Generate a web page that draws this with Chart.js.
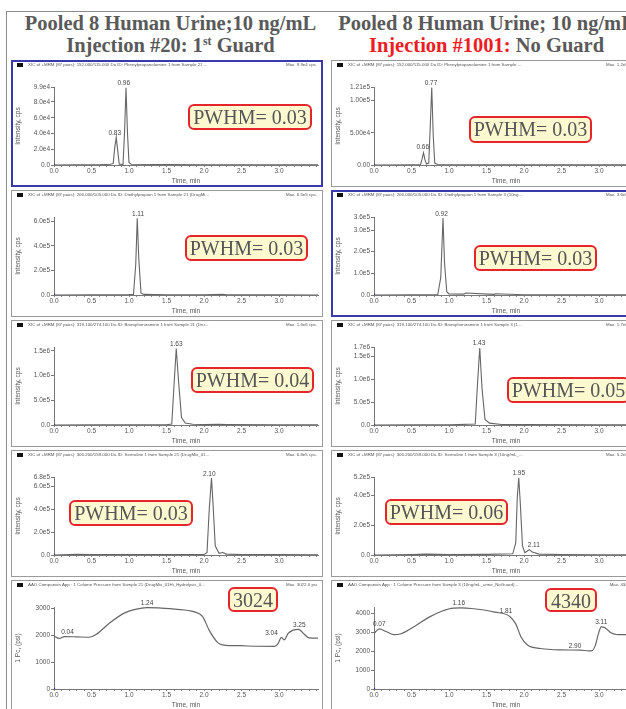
<!DOCTYPE html>
<html>
<head>
<meta charset="utf-8">
<title>Pooled human urine - guard column comparison</title>
<script src="https://cdn.jsdelivr.net/npm/chart.js@4.4.1/dist/chart.umd.min.js"></script>
<style>
  html, body { margin: 0; padding: 0; }
  body { width: 626px; height: 709px; overflow: hidden; position: relative; background: #fff; font-family: "Liberation Sans", Arial, sans-serif; }
  #frame { position: absolute; left: 6px; top: 11px; width: 700px; height: 760px; border: 1px solid #8c8c8c; }
  .ttl { position: absolute; top: 12px; width: 321px; text-align: center; font: bold 20.5px/22px "Liberation Serif", serif; color: #5a5a5a; white-space: nowrap; }
  .ttl sup { font-size: 12px; line-height: 0; vertical-align: 7px; }
  .red { color: #ee1c25; }
  .panel { position: absolute; width: 312px; background: #fff; }
  .panel canvas { position: absolute; left: 1px; top: 1px; }
  .edge { position: absolute; left: 0; top: 0; right: 0; bottom: 0; border: 1px solid #9a9a9a; pointer-events: none; }
  .panel.sel .edge { border: 2px solid #3a3aa8; }
  .icon { position: absolute; left: 6px; top: 3px; width: 6px; height: 4px; background: #111; z-index: 2; }
  .hdr { position: absolute; left: 17px; top: 2px; font-size: 4.4px; color: #555; white-space: nowrap; z-index: 2; }
  .max { position: absolute; right: 6px; top: 2px; font-size: 4.4px; color: #555; white-space: nowrap; z-index: 2; }
  .pw { position: absolute; z-index: 5; box-sizing: border-box; border: 2px solid #e5242b; border-radius: 6px; background: #fcf9d0; color: #555; font: 20px/22px "Liberation Serif", serif; text-align: center; white-space: nowrap; overflow: hidden; }
</style>
</head>
<body>
<div id="frame"></div>
<div class="ttl" style="left:10px">Pooled 8 Human Urine;10 ng/mL<br>Injection #20: 1<sup>st</sup> Guard</div>
<div class="ttl" style="left:326px">Pooled 8 Human Urine; 10 ng/mL<br><span class="red">Injection #1001:</span> No Guard</div>

<div class="pw" style="left:188px;top:104px;width:124px;height:26px">PWHM= 0.03</div>
<div class="pw" style="left:469px;top:116px;width:123px;height:27px">PWHM= 0.03</div>
<div class="pw" style="left:185px;top:235px;width:123px;height:26px">PWHM= 0.03</div>
<div class="pw" style="left:474px;top:245px;width:123px;height:26px">PWHM= 0.03</div>
<div class="pw" style="left:191px;top:367px;width:123px;height:26px">PWHM= 0.04</div>
<div class="pw" style="left:507px;top:377px;width:123px;height:26px">PWHM= 0.05</div>
<div class="pw" style="left:69px;top:500px;width:124px;height:26px">PWHM= 0.03</div>
<div class="pw" style="left:385px;top:499px;width:123px;height:26px">PWHM= 0.06</div>
<div class="pw" style="left:228px;top:587px;width:50px;height:25px">3024</div>
<div class="pw" style="left:545px;top:588px;width:52px;height:24px">4340</div>

<script>
Chart.defaults.font.family = '"Liberation Sans", Arial, sans-serif';

var xMajor = [0, 0.5, 1, 1.5, 2, 2.5, 3];
var xLabels = ['0.0', '0.5', '1.0', '1.5', '2.0', '2.5', '3.0'];

// Phenylpropanolamine, injection #20 (1st guard)
var ppa20Time = [0, 0.3, 0.6, 0.75, 0.79, 0.81, 0.83, 0.85, 0.87, 0.92, 0.94, 0.96, 0.98, 1.0, 1.03, 1.5, 2.0, 2.5, 3.0, 3.52];
var ppa20Cps = [0, 300, 200, 900, 2000, 22000, 34800, 18000, 1000, 800, 40000, 98000, 40000, 3000, 1000, 500, 400, 300, 400, 300];
var ppa20LabelTime = [0.81, 0.93];
var ppa20LabelCps = [34800, 98000];
var ppa20LabelText = ['0.83', '0.96'];
var ppa20Ticks = [0, 20000, 40000, 60000, 80000, 99000];
var ppa20TickLabels = ['0.0', '2.0e4', '4.0e4', '6.0e4', '8.0e4', '9.9e4'];

// Phenylpropanolamine, injection #1001 (no guard)
var ppa1001Time = [0, 0.5, 0.62, 0.64, 0.66, 0.68, 0.7, 0.73, 0.75, 0.77, 0.79, 0.81, 0.85, 1.5, 2.5, 3.52];
var ppa1001Cps = [0, 300, 500, 9000, 19000, 8000, 1500, 3000, 60000, 120000, 45000, 3000, 800, 400, 300, 300];
var ppa1001LabelTime = [0.65, 0.76];
var ppa1001LabelCps = [21000, 120000];
var ppa1001LabelText = ['0.66', '0.77'];
var ppa1001Ticks = [0, 50000, 100000, 121000];
var ppa1001TickLabels = ['0.00', '5.00e4', '1.00e5', '1.21e5'];

// Diethylpropion, injection #20
var dep20Time = [0, 0.5, 1.0, 1.06, 1.09, 1.11, 1.13, 1.16, 1.2, 1.5, 2.0, 2.25, 2.3, 3.0, 3.52];
var dep20Cps = [0, 1000, 3000, 5000, 250000, 625000, 300000, 15000, 5000, 2000, 1500, 6000, 1500, 1000, 500];
var dep20LabelTime = [1.12];
var dep20LabelCps = [625000];
var dep20LabelText = ['1.11'];
var dep20Ticks = [0, 200000, 400000, 600000];
var dep20TickLabels = ['0.0', '2.0e5', '4.0e5', '6.0e5'];

// Diethylpropion, injection #1001
var dep1001Time = [0, 0.5, 0.85, 0.89, 0.92, 0.94, 0.97, 1.0, 1.2, 1.22, 1.6, 1.62, 2.0, 3.0, 3.52];
var dep1001Cps = [0, 1000, 2000, 80000, 355000, 150000, 15000, 5000, 4000, 9000, 3000, 6000, 1500, 1000, 800];
var dep1001LabelTime = [0.9];
var dep1001LabelCps = [355000];
var dep1001LabelText = ['0.92'];
var dep1001Ticks = [0, 100000, 200000, 300000, 360000];
var dep1001TickLabels = ['0.0', '1.0e5', '2.0e5', '3.0e5', '3.6e5'];

// Brompheniramine, injection #20
var bph20Time = [0, 0.5, 1.0, 1.5, 1.57, 1.6, 1.63, 1.66, 1.7, 1.75, 1.85, 2.0, 2.2, 2.3, 3.0, 3.52];
var bph20Cps = [0, 2000, 5000, 5000, 20000, 800000, 1550000, 900000, 150000, 40000, 15000, 10000, 12000, 8000, 3000, 2000];
var bph20LabelTime = [1.63];
var bph20LabelCps = [1550000];
var bph20LabelText = ['1.63'];
var bph20Ticks = [0, 500000, 1000000, 1500000];
var bph20TickLabels = ['0.0', '5.0e5', '1.0e6', '1.5e6'];

// Brompheniramine, injection #1001
var bph1001Time = [0, 0.5, 1.0, 1.35, 1.38, 1.41, 1.44, 1.48, 1.54, 1.7, 2.0, 3.0, 3.52];
var bph1001Cps = [0, 2000, 4000, 20000, 900000, 1680000, 800000, 120000, 40000, 12000, 8000, 3000, 2000];
var bph1001LabelTime = [1.4];
var bph1001LabelCps = [1680000];
var bph1001LabelText = ['1.43'];
var bph1001Ticks = [0, 500000, 1000000, 1500000, 1700000];
var bph1001TickLabels = ['0.0', '5.0e5', '1.0e6', '1.5e6', '1.7e6'];

// Sertraline, injection #20
var ser20Time = [0, 0.3, 0.5, 0.8, 1.2, 1.5, 2.0, 2.04, 2.07, 2.1, 2.12, 2.15, 2.2, 2.25, 2.3, 2.5, 3.0, 3.52];
var ser20Cps = [0, 6000, 3000, 5000, 5000, 4000, 5000, 20000, 400000, 670000, 450000, 80000, 15000, 22000, 8000, 4000, 3000, 2000];
var ser20LabelTime = [2.07];
var ser20LabelCps = [670000];
var ser20LabelText = ['2.10'];
var ser20Ticks = [0, 200000, 400000, 600000, 680000];
var ser20TickLabels = ['0.0', '2.0e5', '4.0e5', '6.0e5', '6.8e5'];

// Sertraline, injection #1001
var ser1001Time = [0, 0.5, 0.7, 1.0, 1.5, 1.85, 1.89, 1.91, 1.93, 1.95, 1.98, 2.01, 2.04, 2.07, 2.11, 2.2, 2.5, 3.0, 3.52];
var ser1001Cps = [0, 3000, 6000, 3000, 4000, 8000, 80000, 380000, 515000, 350000, 60000, 15000, 25000, 36000, 20000, 6000, 3000, 2000, 1500];
var ser1001LabelTime = [1.93, 2.13];
var ser1001LabelCps = [515000, 36000];
var ser1001LabelText = ['1.95', '2.11'];
var ser1001Ticks = [0, 200000, 400000, 520000];
var ser1001TickLabels = ['0.0', '2.0e5', '4.0e5', '5.2e5'];

// Column pressure, injection #20
var pc20Time = [0, 0.07, 0.14, 0.3, 0.47, 0.56, 0.73, 0.95, 1.17, 1.24, 1.39, 1.61, 1.87, 1.98, 2.07, 2.18, 2.26, 2.48, 2.7, 2.94, 2.99, 3.03, 3.07, 3.12, 3.18, 3.26, 3.34, 3.4, 3.52];
var pc20Psi = [1970, 1880, 1950, 1940, 1925, 2025, 2430, 2840, 3010, 3024, 3020, 2970, 2870, 2700, 2180, 1735, 1635, 1610, 1590, 1585, 1700, 1920, 1830, 2060, 2180, 2220, 2030, 1900, 1890];
var pc20LabelTime = [0.18, 1.24, 2.9, 3.27];
var pc20LabelPsi = [1960, 3024, 1920, 2220];
var pc20LabelText = ['0.04', '1.24', '3.04', '3.25'];
var pc20Ticks = [0, 1000, 2000, 3000];
var pc20TickLabels = ['0', '1000', '2000', '3000'];

// Column pressure, injection #1001
var pc1001Time = [0, 0.07, 0.16, 0.27, 0.36, 0.56, 0.73, 0.91, 1.06, 1.16, 1.3, 1.61, 1.81, 1.89, 1.96, 2.05, 2.22, 2.48, 2.75, 2.85, 2.9, 2.95, 2.99, 3.03, 3.08, 3.16, 3.23, 3.31, 3.52];
var pc1001Psi = [2950, 3190, 3050, 2880, 2930, 3370, 3800, 4135, 4290, 4300, 4270, 4080, 3850, 3455, 2760, 2320, 2150, 2075, 2060, 2030, 2020, 2300, 2900, 3300, 3250, 2980, 2890, 2880, 2880];
var pc1001LabelTime = [0.07, 1.13, 1.76, 2.68, 3.03];
var pc1001LabelPsi = [3190, 4300, 3900, 2020, 3320];
var pc1001LabelText = ['0.07', '1.16', '1.81', '2.90', '3.11'];
var pc1001Ticks = [0, 1000, 2000, 3000, 4000];
var pc1001TickLabels = ['0', '1000', '2000', '3000', '4000'];

var charts = [
  {col: 0, row: 0, sel: true, yMax: 99000, smooth: false, yTitle: 'Intensity, cps',
   head: 'XIC of +MRM (87 pairs): 152.000/115.000 Da ID: Phenylpropanolamine 1 from Sample 21 ...', max: 'Max. 9.9e4 cps.',
   t: ppa20Time, v: ppa20Cps, lt: ppa20LabelTime, lv: ppa20LabelCps, lx: ppa20LabelText, ticks: ppa20Ticks, tl: ppa20TickLabels},
  {col: 1, row: 0, sel: false, yMax: 121000, smooth: false, yTitle: 'Intensity, cps',
   head: 'XIC of +MRM (87 pairs): 152.000/115.000 Da ID: Phenylpropanolamine 1 from Sample ...', max: 'Max. 1.2e5 cps.',
   t: ppa1001Time, v: ppa1001Cps, lt: ppa1001LabelTime, lv: ppa1001LabelCps, lx: ppa1001LabelText, ticks: ppa1001Ticks, tl: ppa1001TickLabels},
  {col: 0, row: 1, sel: false, yMax: 635000, smooth: false, yTitle: 'Intensity, cps',
   head: 'XIC of +MRM (87 pairs): 206.000/105.000 Da ID: Diethylpropion 1 from Sample 21 (DrugMi...', max: 'Max. 6.5e5 cps.',
   t: dep20Time, v: dep20Cps, lt: dep20LabelTime, lv: dep20LabelCps, lx: dep20LabelText, ticks: dep20Ticks, tl: dep20TickLabels},
  {col: 1, row: 1, sel: true, yMax: 360000, smooth: false, yTitle: 'Intensity, cps',
   head: 'XIC of +MRM (87 pairs): 206.000/105.000 Da ID: Diethylpropion 1 from Sample 3 (10ng...', max: 'Max. 3.6e5 cps.',
   t: dep1001Time, v: dep1001Cps, lt: dep1001LabelTime, lv: dep1001LabelCps, lx: dep1001LabelText, ticks: dep1001Ticks, tl: dep1001TickLabels},
  {col: 0, row: 2, sel: false, yMax: 1580000, smooth: false, yTitle: 'Intensity, cps',
   head: 'XIC of +MRM (87 pairs): 319.100/274.100 Da ID: Brompheniramine 1 from Sample 21 (Dru...', max: 'Max. 1.6e6 cps.',
   t: bph20Time, v: bph20Cps, lt: bph20LabelTime, lv: bph20LabelCps, lx: bph20LabelText, ticks: bph20Ticks, tl: bph20TickLabels},
  {col: 1, row: 2, sel: false, yMax: 1700000, smooth: false, yTitle: 'Intensity, cps',
   head: 'XIC of +MRM (87 pairs): 319.100/274.100 Da ID: Brompheniramine 1 from Sample 3 (1...', max: 'Max. 1.7e6 cps.',
   t: bph1001Time, v: bph1001Cps, lt: bph1001LabelTime, lv: bph1001LabelCps, lx: bph1001LabelText, ticks: bph1001Ticks, tl: bph1001TickLabels},
  {col: 0, row: 3, sel: false, yMax: 680000, smooth: false, yTitle: 'Intensity, cps',
   head: 'XIC of +MRM (87 pairs): 306.200/159.000 Da ID: Sertraline 1 from Sample 21 (DrugMix_01...', max: 'Max. 6.8e5 cps.',
   t: ser20Time, v: ser20Cps, lt: ser20LabelTime, lv: ser20LabelCps, lx: ser20LabelText, ticks: ser20Ticks, tl: ser20TickLabels},
  {col: 1, row: 3, sel: false, yMax: 520000, smooth: false, yTitle: 'Intensity, cps',
   head: 'XIC of +MRM (87 pairs): 306.200/159.000 Da ID: Sertraline 1 from Sample 3 (10ng/mL_...', max: 'Max. 5.2e5 cps.',
   t: ser1001Time, v: ser1001Cps, lt: ser1001LabelTime, lv: ser1001LabelCps, lx: ser1001LabelText, ticks: ser1001Ticks, tl: ser1001TickLabels},
  {col: 0, row: 4, sel: false, yMax: 3050, smooth: true, yTitle: '1 Pc, (psi)',
   head: 'AAO Companion App : 1 Column Pressure from Sample 21 (DrugMix_01Hi_Hydrolysis_0...', max: 'Max. 3022.0 psi',
   t: pc20Time, v: pc20Psi, lt: pc20LabelTime, lv: pc20LabelPsi, lx: pc20LabelText, ticks: pc20Ticks, tl: pc20TickLabels},
  {col: 1, row: 4, sel: false, yMax: 4350, smooth: true, yTitle: '1 Pc, (psi)',
   head: 'AAO Companion App : 1 Column Pressure from Sample 3 (10ng/mL_urine_NoGuard)...', max: 'Max. 4340 psi',
   t: pc1001Time, v: pc1001Psi, lt: pc1001LabelTime, lv: pc1001LabelPsi, lx: pc1001LabelText, ticks: pc1001Ticks, tl: pc1001TickLabels}
];

var rowTop = [60, 190, 320, 450, 580];
var rowH = [127, 127, 127, 127, 131];
var colLeft = [11, 331];

// writes the retention time next to each labelled peak
var peakLabels = {
  id: 'peakLabels',
  afterDatasetsDraw: function (chart, args, opts) {
    var ctx = chart.ctx, x = chart.scales.x, y = chart.scales.y;
    ctx.save();
    ctx.font = '6.5px "Liberation Sans", Arial, sans-serif';
    ctx.fillStyle = '#444';
    ctx.textAlign = 'center';
    ctx.textBaseline = 'bottom';
    for (var i = 0; i < opts.times.length; i++) {
      ctx.fillText(opts.text[i], x.getPixelForValue(opts.times[i]), y.getPixelForValue(opts.values[i]) - 1);
    }
    ctx.restore();
  }
};

var small = {size: 6.5};

charts.forEach(function (c) {
  var p = document.createElement('div');
  p.className = 'panel' + (c.sel ? ' sel' : '');
  p.style.left = colLeft[c.col] + 'px';
  p.style.top = rowTop[c.row] + 'px';
  p.style.height = rowH[c.row] + 'px';
  p.innerHTML = '<div class="icon"></div><div class="hdr">' + c.head + '</div><div class="max">' + c.max + '</div>';
  var cv = document.createElement('canvas');
  cv.width = 310;
  cv.height = rowH[c.row] - 2;
  cv.style.width = '310px';
  cv.style.height = (rowH[c.row] - 2) + 'px';
  p.appendChild(cv);
  var e = document.createElement('div');
  e.className = 'edge';
  p.appendChild(e);
  document.body.appendChild(p);

  var pts = c.t.map(function (t, i) { return {x: t, y: c.v[i]}; });

  new Chart(cv, {
    type: 'scatter',
    data: {
      datasets: [
        {data: pts, showLine: true, borderColor: '#666', borderWidth: c.smooth ? 1.2 : 1.1, pointRadius: 0,
         cubicInterpolationMode: c.smooth ? 'monotone' : 'default', tension: c.smooth ? 0.4 : 0},
        {data: [{x: 0, y: 0}], pointStyle: 'rect', pointRadius: 1.6, backgroundColor: '#1414d2', borderWidth: 0}
      ]
    },
    plugins: [peakLabels],
    options: {
      responsive: false,
      animation: false,
      events: [],
      layout: {padding: {top: 26, right: 0, bottom: 0, left: 0}},
      plugins: {
        legend: {display: false},
        tooltip: {enabled: false},
        peakLabels: {times: c.lt, values: c.lv, text: c.lx}
      },
      scales: {
        x: {
          type: 'linear', min: 0, max: 3.52,
          afterBuildTicks: function (s) {
            var tk = [];
            for (var k = 0; k <= 35; k++) tk.push({value: k / 10});
            s.ticks = tk;
          },
          afterFit: function (s) { s.height = 21; },
          ticks: {
            autoSkip: false, maxRotation: 0, padding: 0, color: '#555', font: small,
            callback: function (v) {
              var i = xMajor.indexOf(Math.round(v * 10) / 10);
              return i < 0 ? '' : xLabels[i];
            }
          },
          grid: {drawOnChartArea: false, tickLength: 2, color: '#888'},
          border: {color: '#777'},
          title: {display: true, text: 'Time, min', color: '#555', font: small, padding: {top: 0, bottom: 1}}
        },
        y: {
          type: 'linear', min: 0, max: c.yMax,
          afterBuildTicks: function (s) { s.ticks = c.ticks.map(function (v) { return {value: v}; }); },
          afterFit: function (s) { s.width = 42; },
          ticks: {
            autoSkip: false, padding: 1, color: '#555', font: small,
            callback: function (v, i) { return c.tl[i]; }
          },
          grid: {drawOnChartArea: false, tickLength: 3, color: '#777'},
          border: {color: '#777'},
          title: {display: true, text: c.yTitle, color: '#555', font: small, padding: {top: 2, bottom: 0}}
        }
      }
    }
  });
});
</script>
</body>
</html>
